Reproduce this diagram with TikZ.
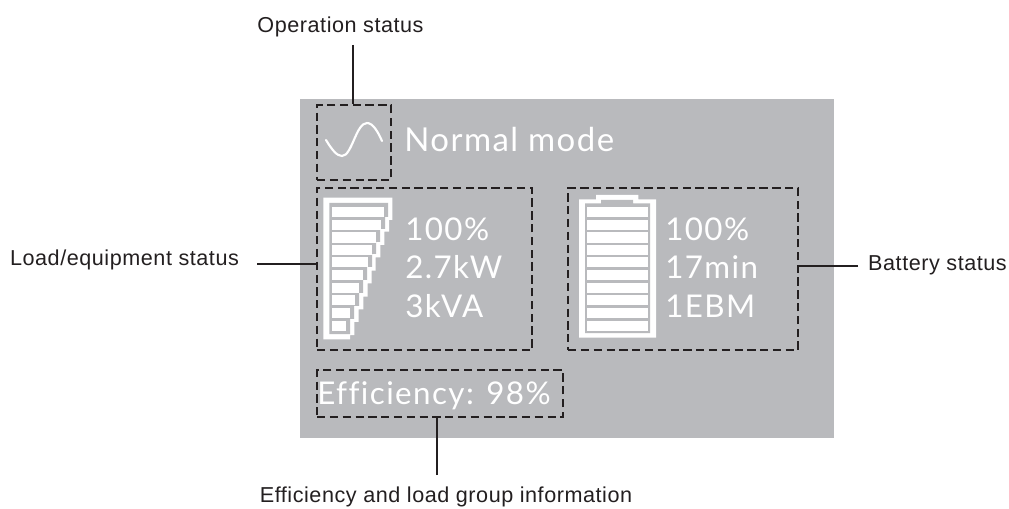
\documentclass[tikz,border=0pt]{standalone}
\usepackage{fontspec}
\setmainfont[LetterSpace=2.5]{Liberation Sans}
\newfontfamily\panelfont[LetterSpace=4.5,Ligatures=CommonOff]{Lato}
\usepackage{tikz}
\definecolor{panelgray}{RGB}{185,186,189}
\definecolor{leadblack}{RGB}{35,31,32}
\tikzset{
  statusbox/.style={draw=leadblack, line width=1.7pt, dash pattern=on 6.2pt off 3.4pt, anchor=north west, inner sep=0pt},
  leader/.style={draw=leadblack, line width=1.5pt},
  caption/.style={text=leadblack, font=\fontsize{16.2}{18}\selectfont, inner sep=0pt},
  paneltext/.style={text=white, font=\panelfont\fontsize{23.5}{26}\selectfont, anchor=base west, inner sep=0pt},
  bar/.style={fill=white, draw=none},
}
\begin{document}
\begin{tikzpicture}[x=0.75pt, y=-0.75pt]
\useasboundingbox (0,0) rectangle (1009,509);
\fill [panelgray] (300,99) rectangle (834,438);
%
\node (opbox) [statusbox, minimum width=55.5pt, minimum height=56.25pt] at (316,104) {};
\node (loadbox) [statusbox, minimum width=161.25pt, minimum height=121.5pt] at (316,187) {};
\node (batbox) [statusbox, minimum width=172.5pt, minimum height=121.5pt] at (567,187) {};
\node (effbox) [statusbox, minimum width=184.5pt, minimum height=35.25pt] at (316,369) {};
%
\node (optext) [caption] at (340.5,27) {Operation status};
\node (loadtext) [caption] at (124.5,260) {Load/equipment status};
\node (battext) [caption] at (937.5,265) {Battery status};
\node (efftext) [caption] at (446,497) {Efficiency and load group information};
%
\coordinate (opend) at (353,45);
\coordinate (loadend) at (257,264);
\coordinate (batend) at (858,266);
\coordinate (effend) at (437,475);
\draw [leader] (opend) -- (opend |- opbox.north);
\draw [leader] (loadend) -- (loadend -| loadbox.west);
\draw [leader] (batend) -- (batend -| batbox.east);
\draw [leader] (effend) -- (effend |- effbox.south);
%
\draw [white, line width=1.6pt, line cap=round] (326,140) .. controls (332,150) and (337,156) .. (342,156) .. controls (352,156) and (356,123) .. (367,123) .. controls (373,123) and (378,132) .. (382,141);
%
\node (modetext) [paneltext, font=\panelfont\fontsize{24.7}{26}\selectfont] at (404,152) {Normal mode};
\node (loadpct) [paneltext] at (405,241) {100\%};
\node (loadkw) [paneltext] at (405,279) {2.7kW};
\node (loadkva) [paneltext] at (405,318) {3kVA};
\node (batpct) [paneltext] at (665,241) {100\%};
\node (batmin) [paneltext] at (665,279) {17min};
\node (batebm) [paneltext] at (665,318) {1EBM};
\node (efftxt) [paneltext] at (317,404) {Efficiency: 98\%};
%
% load icon
\fill [white] (323.3,197.7) -- (392.3,197.7) -- (392.3,220) -- (389,220) -- (389,231.7) -- (384.3,231.7) -- (384.3,245) -- (380.3,245) -- (380.3,257.3) -- (375.7,257.3) -- (375.7,270.7) -- (371.7,270.7) -- (371.7,283.3) -- (367.7,283.3) -- (367.7,296.7) -- (363.3,296.7) -- (363.3,309.3) -- (358.7,309.3) -- (358.7,322) -- (354.3,322) -- (354.3,335) -- (350,335) -- (350,339.3) -- (323.3,339.3) -- cycle;
\fill [panelgray] (329.3,203) -- (388,203) -- (388,217) -- (385,217) -- (385,229) -- (380,229) -- (380,242) -- (376,242) -- (376,254) -- (372,254) -- (372,267) -- (367,267) -- (367,280) -- (363,280) -- (363,293) -- (359,293) -- (359,306) -- (354,306) -- (354,319) -- (350,319) -- (350,334) -- (329.3,334) -- cycle;
\fill [bar] (332,206.7) rectangle (384.3,217.3);
\fill [bar] (332,220) rectangle (381.3,230);
\fill [bar] (332,232) rectangle (376.3,242.7);
\fill [bar] (332,245.3) rectangle (372.3,255);
\fill [bar] (332,257.3) rectangle (368,267.3);
\fill [bar] (332,270) rectangle (363,280);
\fill [bar] (332,283.3) rectangle (359,293.3);
\fill [bar] (332,295.3) rectangle (355,305);
\fill [bar] (332,308) rectangle (350,318);
\fill [bar] (332,321) rectangle (346.3,330.7);
%
% battery icon
\fill [white] (579,199.3) -- (596,199.3) -- (596,195) -- (638.3,195) -- (638.3,199.3) -- (656,199.3) -- (656,337.7) -- (579,337.7) -- cycle;
\fill [panelgray] (585,203.3) -- (601,203.3) -- (601,200) -- (633,200) -- (633,203.3) -- (650,203.3) -- (650,333) -- (585,333) -- cycle;
\fill [bar] (587,206.7) rectangle (648.3,217.3);
\fill [bar] (587,220) rectangle (648.3,230);
\fill [bar] (587,232) rectangle (648.3,242.7);
\fill [bar] (587,245.3) rectangle (648.3,255);
\fill [bar] (587,257.3) rectangle (648.3,267.3);
\fill [bar] (587,270) rectangle (648.3,280);
\fill [bar] (587,283.3) rectangle (648.3,293.3);
\fill [bar] (587,295.3) rectangle (648.3,305);
\fill [bar] (587,308) rectangle (648.3,318);
\fill [bar] (587,321) rectangle (648.3,330.7);
%%%%%%%%%%%%%%%%%%%%%%%%%%%%%%%
\end{tikzpicture}
\end{document}
